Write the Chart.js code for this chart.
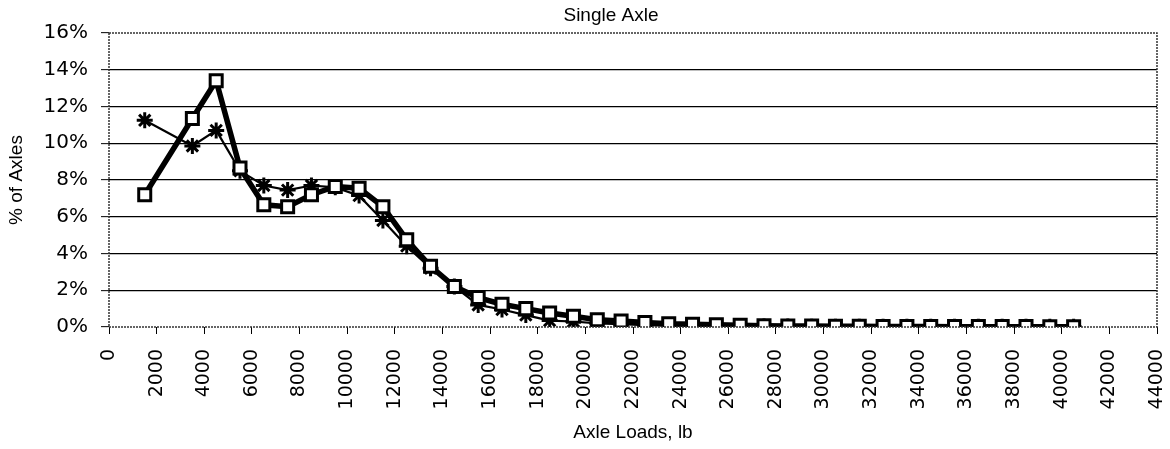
<!DOCTYPE html>
<html><head><meta charset="utf-8">
<script src="https://cdn.jsdelivr.net/npm/chart.js@4.4.1/dist/chart.umd.min.js"></script>
<style>html,body{margin:0;padding:0;background:#fff;overflow:hidden}</style>
</head><body>
<canvas id="c" width="1170" height="449"></canvas>
<script>
const chartTitle = 'Single Axle';
const xTitle = 'Axle Loads, lb';
const yTitle = '% of Axles';

const axleLoads = [1500,3500,4500,5500,6500,7500,8500,9500,10500,11500,12500,13500,14500,15500,16500,17500,18500,19500,20500,21500,22500,23500,24500,25500,26500,27500,28500,29500,30500,31500,32500,33500,34500,35500,36500,37500,38500,39500,40500];
const seriesSquares = [7.2,11.35,13.4,8.65,6.65,6.55,7.2,7.65,7.55,6.55,4.75,3.3,2.2,1.6,1.24,1.0,0.76,0.58,0.4,0.33,0.24,0.18,0.15,0.12,0.1,0.07,0.06,0.05,0.04,0.04,0.03,0.03,0.03,0.02,0.02,0.02,0.02,0.01,0.01];
const seriesStars = [11.25,9.85,10.7,8.5,7.7,7.45,7.7,7.6,7.15,5.8,4.4,3.2,2.2,1.2,0.95,0.65,0.35,0.3,0.2,0.15,0.1,0.08,0.06,0.05,0.04,0.03,0.03,0.02,0.02,0.02,0.01,0.01,0.01,0.01,0.01,0.01,0.01,0.01,0.01];
const xTickValues = [0,2000,4000,6000,8000,10000,12000,14000,16000,18000,20000,22000,24000,26000,28000,30000,32000,34000,36000,38000,40000,42000,44000];
const yTickValues = [0,2,4,6,8,10,12,14,16];

const toPoints = arr => arr.map((v, i) => ({x: axleLoads[i], y: v}));

const framePlugin = {
  id: 'frame',
  afterDraw(chart) {
    const {ctx, chartArea: a} = chart;
    ctx.save();
    ctx.strokeStyle = '#333';
    ctx.lineWidth = 1.5;
    ctx.setLineDash([2, 1]);
    ctx.strokeRect(a.left, a.top, a.right - a.left, a.bottom - a.top);
    ctx.restore();
  }
};
const titlePlugin = {
  id: 'topTitle',
  afterDraw(chart) {
    const {ctx} = chart;
    ctx.save();
    ctx.fillStyle = '#000';
    ctx.font = '19px "Liberation Sans", Arial, sans-serif';
    ctx.textAlign = 'center';
    ctx.textBaseline = 'alphabetic';
    ctx.fillText(chartTitle, 611, 21);
    ctx.restore();
  }
};

new Chart(document.getElementById('c'), {
  type: 'line',
  data: {
    datasets: [
      {
        label: 'Squares',
        data: toPoints(seriesSquares),
        borderColor: '#000',
        borderWidth: 5.5,
        pointStyle: 'rect',
        pointRadius: 8.5,
        pointBorderWidth: 3,
        pointBackgroundColor: '#fff',
        pointBorderColor: '#000',
        tension: 0,
        order: 0
      },
      {
        label: 'Stars',
        data: toPoints(seriesStars),
        borderColor: '#000',
        borderWidth: 2.2,
        pointStyle: 'star',
        pointRadius: 8,
        pointBorderWidth: 3,
        pointBackgroundColor: '#000',
        pointBorderColor: '#000',
        tension: 0,
        order: 1
      }
    ]
  },
  options: {
    responsive: false,
    animation: false,
    devicePixelRatio: 1,
    layout: {padding: {left: 0, right: 13, top: 33, bottom: 0}},
    plugins: {legend: {display: false}, tooltip: {enabled: false}, title: {display: false}},
    scales: {
      x: {
        type: 'linear',
        min: 0, max: 44000,
        afterBuildTicks: s => { s.ticks = xTickValues.map(v => ({value: v})); },
        afterFit: s => { s.height = 122; s.paddingLeft = 0; s.paddingRight = 0; },
        border: {display: false},
        grid: {drawOnChartArea: false, drawTicks: true, tickLength: 7, tickColor: '#000', tickWidth: 1},
        ticks: {
          autoSkip: false, maxRotation: 90, minRotation: 90, padding: 15,
          color: '#000',
          font: {family: '"DejaVu Sans", sans-serif', size: 19},
          callback: v => String(v)
        },
        title: {display: true, text: xTitle, color: '#000', padding: {top: 0, bottom: 5},
          font: {family: '"Liberation Sans", Arial, sans-serif', size: 19}}
      },
      y: {
        min: 0, max: 16,
        afterBuildTicks: s => { s.ticks = yTickValues.map(v => ({value: v})); },
        afterFit: s => { s.width = 109; s.paddingTop = 0; s.paddingBottom = 0; },
        border: {display: false},
        grid: {
          color: c => (c.tick && (c.tick.value === 0 || c.tick.value === 16)) ? 'rgba(0,0,0,0)' : '#000',
          lineWidth: 1.3,
          drawTicks: true, tickLength: 8, tickColor: '#000', tickWidth: 1
        },
        ticks: {
          padding: 13, color: '#000',
          font: {family: '"DejaVu Sans", sans-serif', size: 20},
          callback: v => v + '%'
        },
        title: {display: true, text: yTitle, color: '#000', padding: {top: 5, bottom: 0},
          font: {family: '"Liberation Sans", Arial, sans-serif', size: 19}}
      }
    }
  },
  plugins: [framePlugin, titlePlugin]
});
</script>
</body></html>
